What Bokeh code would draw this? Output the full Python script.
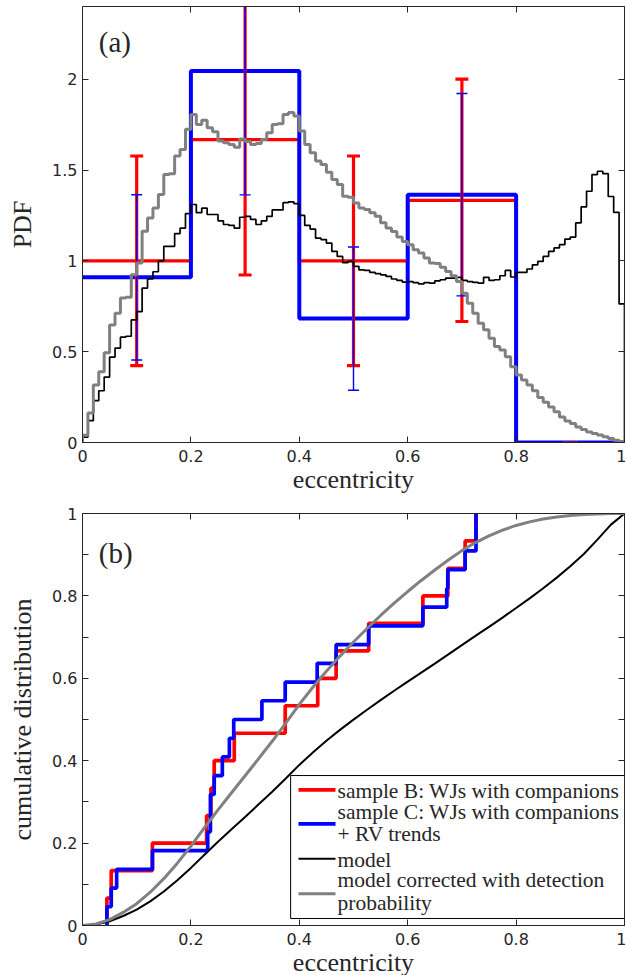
import numpy as np
from bokeh.plotting import figure
from bokeh.models import Range1d, LinearAxis, FixedTicker, Label, BoxAnnotation
from bokeh.layouts import column
from bokeh.embed import file_html
from bokeh.resources import INLINE

# ---------------- data ----------------
coarse_edges = [0, 0.2, 0.4, 0.6, 0.8, 1.0]
coarse_centers = [0.1, 0.3, 0.5, 0.7, 0.9]
pdf_sampleB = [1.0, 1.667, 1.0, 1.333, 0.0]
err_sampleB = [0.577, 0.745, 0.577, 0.667, 0.0]
pdf_sampleC = [0.909, 2.045, 0.682, 1.364, 0.0]
err_sampleC = [0.455, 0.682, 0.394, 0.557, 0.0]

pdf_model = [
    0.03, 0.12, 0.23, 0.285, 0.36, 0.47, 0.52, 0.58, 0.585, 0.675,
    0.72, 0.85, 0.90, 0.94, 1.00, 1.08, 1.08, 1.15, 1.18, 1.26,
    1.31, 1.265, 1.29, 1.255, 1.255, 1.22, 1.20, 1.195, 1.18, 1.24,
    1.245, 1.228, 1.20, 1.22, 1.245, 1.28, 1.28, 1.32, 1.325, 1.315,
    1.25, 1.195, 1.175, 1.125, 1.117, 1.098, 1.052, 1.024, 0.99, 0.997,
    0.97, 0.95, 0.947, 0.936, 0.93, 0.923, 0.914, 0.90, 0.892, 0.883,
    0.886, 0.88, 0.873, 0.88, 0.877, 0.89, 0.896, 0.905, 0.905, 0.909,
    0.892, 0.886, 0.881, 0.877, 0.909, 0.892, 0.896, 0.918, 0.947, 0.911,
    0.936, 0.936, 0.955, 0.978, 0.997, 1.024, 1.052, 1.071, 1.089, 1.12,
    1.131, 1.209, 1.297, 1.383, 1.475, 1.493, 1.48, 1.354, 1.267, 0.763]

pdf_model_corr = [
    0.04, 0.163, 0.316, 0.39, 0.494, 0.647, 0.712, 0.795, 0.80, 0.923,
    0.988, 1.163, 1.236, 1.291, 1.365, 1.475, 1.48, 1.577, 1.613, 1.724,
    1.806, 1.751, 1.774, 1.733, 1.711, 1.66, 1.65, 1.64, 1.625, 1.67,
    1.657, 1.64, 1.646, 1.668, 1.705, 1.751, 1.755, 1.806, 1.816, 1.797,
    1.714, 1.641, 1.595, 1.549, 1.53, 1.488, 1.448, 1.42, 1.355, 1.35,
    1.319, 1.291, 1.282, 1.264, 1.245, 1.209, 1.181, 1.162, 1.131, 1.107,
    1.089, 1.061, 1.043, 1.015, 0.988, 0.985, 0.965, 0.941, 0.918, 0.886,
    0.822, 0.767, 0.712, 0.657, 0.62, 0.574, 0.528, 0.509, 0.472, 0.417,
    0.371, 0.344, 0.316, 0.285, 0.248, 0.221, 0.196, 0.169, 0.141, 0.119,
    0.105, 0.086, 0.072, 0.058, 0.05, 0.041, 0.031, 0.022, 0.013, 0.004]

ecc_sampleB = [0.045, 0.053, 0.129, 0.229, 0.237, 0.243, 0.280, 0.374,
               0.434, 0.468, 0.528, 0.628, 0.674, 0.706, 0.726]
ecc_sampleC = [0.045, 0.053, 0.063, 0.129, 0.231, 0.236, 0.236, 0.243,
               0.258, 0.271, 0.279, 0.331, 0.374, 0.433, 0.468, 0.528,
               0.628, 0.672, 0.674, 0.706, 0.726, 0.726]

cdf_ecc = [0, 0.025, 0.05, 0.075, 0.1, 0.125, 0.15, 0.175, 0.2, 0.225,
           0.25, 0.275, 0.3, 0.325, 0.35, 0.375, 0.4, 0.425, 0.45, 0.475,
           0.5, 0.525, 0.55, 0.575, 0.6, 0.625, 0.65, 0.675, 0.7, 0.725,
           0.75, 0.775, 0.8, 0.825, 0.85, 0.875, 0.9, 0.925, 0.95, 0.975, 1.0]
cdf_model = [0, 0.0026, 0.0102, 0.0230, 0.0384, 0.0586, 0.0824, 0.1097, 0.1398, 0.1719,
             0.2033, 0.2335, 0.2635, 0.2942, 0.3247, 0.3569, 0.3898, 0.4200, 0.4482, 0.4748,
             0.4997, 0.5236, 0.5469, 0.5697, 0.5919, 0.6139, 0.6357, 0.6581, 0.6807, 0.7028,
             0.7250, 0.7474, 0.7705, 0.7939, 0.8184, 0.8444, 0.8718, 0.9016, 0.9366, 0.9730, 1.0]
cdf_model_corr = [0, 0.0036, 0.0141, 0.0317, 0.0530, 0.0808, 0.1137, 0.1513, 0.1927, 0.2373,
                  0.2808, 0.3223, 0.3636, 0.4050, 0.4471, 0.4914, 0.5367, 0.5784, 0.6173, 0.6539,
                  0.6882, 0.7209, 0.7525, 0.7823, 0.8106, 0.8375, 0.8628, 0.8871, 0.9099, 0.9295,
                  0.9459, 0.9595, 0.9710, 0.9797, 0.9867, 0.9917, 0.9952, 0.9974, 0.9989, 0.9997, 1.0]

x_ticks = [0, 0.2, 0.4, 0.6, 0.8, 1]
x_tick_labels = ["0", "0.2", "0.4", "0.6", "0.8", "1"]
y1_ticks = [0, 0.5, 1, 1.5, 2]
y1_tick_labels = ["0", "0.5", "1", "1.5", "2"]
y2_ticks = [0, 0.1, 0.2, 0.3, 0.4, 0.5, 0.6, 0.7, 0.8, 0.9, 1]
y2_tick_labels = ["0", "", "0.2", "", "0.4", "", "0.6", "", "0.8", "", "1"]

legend_entries = ["sample B: WJs with companions",
                  "sample C: WJs with companions\n+ RV trends",
                  "model",
                  "model corrected with detection\nprobability"]

# ---------------- style ----------------
AX = "#262626"
TICK_FONT = "DejaVu Sans"
TICK_SIZE = "16px"
SERIF = "Liberation Serif"
RED, BLUE, GRAY = "#ff0000", "#0000ff", "#808080"


def style_axis(ax, ticks, labels, show):
    ax.ticker = FixedTicker(ticks=ticks)
    ax.major_label_overrides = {t: l for t, l in zip(ticks, labels)}
    ax.minor_tick_line_color = None
    ax.major_tick_in = 6
    ax.major_tick_out = 0
    ax.major_tick_line_color = AX
    ax.axis_line_color = AX
    ax.axis_line_width = 1
    ax.major_label_text_font = TICK_FONT
    if show:
        ax.major_label_text_font_size = TICK_SIZE
        ax.major_label_text_color = AX
    else:
        ax.major_label_text_font_size = "1px"
        ax.major_label_text_color = None
        ax.major_label_standoff = 0


def make_fig(fh, yr, yticks, ylabels, ylabel, mtop, mbot):
    p = figure(frame_width=542, frame_height=fh, x_range=Range1d(0, 1), y_range=yr,
               output_backend="svg", toolbar_location=None,
               min_border_left=82, min_border_right=2, min_border_top=mtop, min_border_bottom=mbot)
    p.grid.visible = False
    p.outline_line_color = None
    style_axis(p.xaxis[0], x_ticks, x_tick_labels, True)
    style_axis(p.yaxis[0], yticks, ylabels, True)
    p.xaxis[0].major_label_standoff = 7
    p.yaxis[0].major_label_standoff = 5
    p.xaxis[0].axis_label = "eccentricity"
    p.yaxis[0].axis_label = ylabel
    for ax in (p.xaxis[0], p.yaxis[0]):
        ax.axis_label_text_font = SERIF
        ax.axis_label_text_font_size = "26px"
        ax.axis_label_text_font_style = "normal"
        ax.axis_label_text_color = "#262626"
    p.xaxis[0].axis_label_standoff = 0
    p.yaxis[0].axis_label_standoff = 12
    top = LinearAxis()
    style_axis(top, x_ticks, x_tick_labels, False)
    right = LinearAxis()
    style_axis(right, yticks, ylabels, False)
    p.add_layout(top, "above")
    p.add_layout(right, "right")
    return p


# ---------------- panel (a) ----------------
p1 = make_fig(436, Range1d(0, 2.4), y1_ticks, y1_tick_labels, "PDF", 6, 58)

p1.step(x=coarse_edges, y=pdf_sampleB + [pdf_sampleB[-1]], mode="after", line_color=RED, line_width=3.2)
p1.step(x=coarse_edges, y=pdf_sampleC + [pdf_sampleC[-1]], mode="after", line_color=BLUE, line_width=4)

b = np.array(pdf_sampleB); eb = np.array(err_sampleB)
c = np.array(pdf_sampleC); ec = np.array(err_sampleC)
p1.segment(x0=coarse_centers, y0=b - eb, x1=coarse_centers, y1=b + eb, line_color=RED, line_width=3.2)
p1.scatter(x=coarse_centers * 2, y=list(b - eb) + list(b + eb), marker="dash", size=13,
           line_color=RED, line_width=3.2)
p1.segment(x0=coarse_centers, y0=c - ec, x1=coarse_centers, y1=c + ec, line_color=BLUE, line_width=1.4)
p1.scatter(x=coarse_centers * 2, y=list(c - ec) + list(c + ec), marker="dash", size=11,
           line_color=BLUE, line_width=1.4)

edges = np.linspace(0, 1, len(pdf_model) + 1)
xs = np.concatenate([[0.0], edges, [1.0]])
p1.step(x=xs, y=[0.0] + pdf_model + [pdf_model[-1], 0.0], mode="after", line_color="black", line_width=1.7)
p1.step(x=xs, y=[0.0] + pdf_model_corr + [pdf_model_corr[-1], 0.0], mode="after", line_color=GRAY, line_width=3)

p1.add_layout(Label(x=0.03, y=2.29, text="(a)", text_baseline="top", text_font=SERIF,
                    text_font_size="29px", text_color="#262626"))

# ---------------- panel (b) ----------------
p2 = make_fig(412, Range1d(0, 1), y2_ticks, y2_tick_labels, "cumulative distribution", 13, 50)

nB = len(ecc_sampleB); nC = len(ecc_sampleC)
p2.step(x=[ecc_sampleB[0]] + ecc_sampleB, y=np.arange(nB + 1) / nB, mode="after",
        line_color=RED, line_width=3.7)
p2.step(x=[ecc_sampleC[0]] + ecc_sampleC, y=np.arange(nC + 1) / nC, mode="after",
        line_color=BLUE, line_width=3.7)
p2.line(x=cdf_ecc, y=cdf_model, line_color="black", line_width=2)
p2.line(x=cdf_ecc, y=cdf_model_corr, line_color=GRAY, line_width=3)

p2.add_layout(Label(x=0.03, y=0.943, text="(b)", text_baseline="top", text_font=SERIF,
                    text_font_size="29px", text_color="#262626"))

# legend (box, swatches and text lines placed in the panel's own coordinates)
p2.add_layout(BoxAnnotation(left=0.384, right=1.0, bottom=0.017, top=0.364,
                            fill_color="white", fill_alpha=1.0,
                            line_color="black", line_alpha=1.0, line_width=1))
sw_x0, sw_x1, txt_x = 0.3985, 0.4668, 0.4705
swatch_y = [0.3294, 0.2468, 0.1619, 0.0769]
swatch_style = [(RED, 3.7), (BLUE, 3.7), ("black", 2), (GRAY, 3)]
for yy, (col, lw) in zip(swatch_y, swatch_style):
    p2.segment(x0=[sw_x0], y0=[yy], x1=[sw_x1], y1=[yy], line_color=col, line_width=lw,
               level="overlay")
text_lines = [ln for entry in legend_entries for ln in entry.split("\n")]
text_baselines = [0.3269, 0.2750, 0.2216, 0.1595, 0.1109, 0.0541]
for ln, yy in zip(text_lines, text_baselines):
    p2.add_layout(Label(x=txt_x, y=yy, text=ln, text_baseline="alphabetic", text_font=SERIF,
                        text_font_size="21.5px", text_color="#262626", level="overlay"))

layout = column(p1, p2, spacing=0)
open("out.html", "w").write(file_html(layout, INLINE))
